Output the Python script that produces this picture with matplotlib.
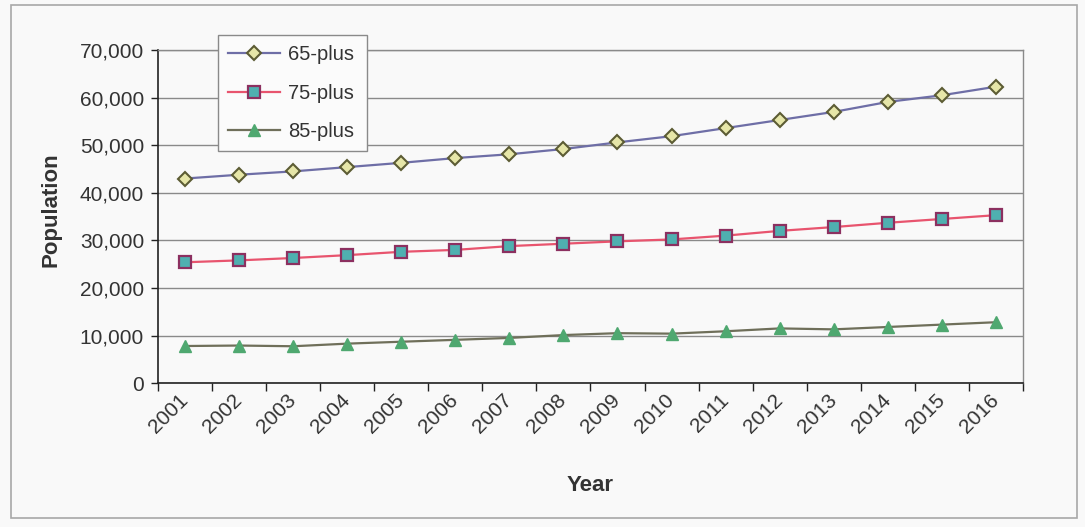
import matplotlib
matplotlib.use("Agg")
import matplotlib.pyplot as plt
from matplotlib.patches import Rectangle
from matplotlib.ticker import FuncFormatter, FixedLocator
import numpy as np

plt.rcParams['font.family'] = ['Liberation Sans', 'DejaVu Sans']

years = [str(y) for y in range(2001, 2017)]
pop_65 = [43000, 43800, 44500, 45400, 46300, 47300, 48100, 49200,
          50600, 51900, 53600, 55300, 57000, 59100, 60500, 62300]
pop_75 = [25400, 25800, 26300, 26900, 27600, 28000, 28800, 29300,
          29800, 30200, 31000, 32000, 32800, 33700, 34500, 35300]
pop_85 = [7800, 7900, 7750, 8300, 8700, 9100, 9500, 10100,
          10500, 10400, 10900, 11500, 11300, 11800, 12300, 12800]

fig = plt.figure(figsize=(10.85, 5.27), dpi=100)
fig.patch.set_facecolor('#f9f9f9')
# chart area border
fig.patches.append(Rectangle((11 / 1085, 1 - 518 / 527), 1066 / 1085, 513 / 527,
                             transform=fig.transFigure, fill=False,
                             edgecolor='#a8a8a8', linewidth=1.2))

ax = fig.add_axes([0.1456, 0.273, 0.7972, 0.632])
ax.set_facecolor('#f9f9f9')
x = np.arange(len(years))

ax.plot(x, pop_65, color='#6e6ea6', lw=1.6, marker='D', ms=7,
        mfc='#e6e6a8', mec='#5c5c34', mew=1.5, label='65-plus')
ax.plot(x, pop_75, color='#e8546e', lw=1.6, marker='s', ms=8.5,
        mfc='#4fb0b0', mec='#8c3060', mew=1.6, label='75-plus')
ax.plot(x, pop_85, color='#6f6f5a', lw=1.6, marker='^', ms=8.5,
        mfc='#4fa870', mec='#4fa870', mew=1, label='85-plus')

ax.set_xlim(-0.5, len(years) - 0.5)
ax.set_ylim(0, 70000)
ax.set_yticks(np.arange(0, 70001, 10000))
ax.yaxis.set_major_formatter(FuncFormatter(lambda v, p: f'{v:,.0f}'))
ax.yaxis.grid(True, color='#8a8a8a', lw=1)
ax.set_axisbelow(True)

ax.set_xticks(x)
ax.set_xticklabels(years, rotation=45, ha='right', va='center', rotation_mode='anchor')
ax.xaxis.set_minor_locator(FixedLocator(np.arange(-0.5, len(years), 1.0)))
ax.tick_params(axis='x', which='major', length=0, pad=10,
               labelsize=15, labelcolor='#333333')
ax.tick_params(axis='x', which='minor', length=6, width=1, color='#222222')
ax.tick_params(axis='y', length=5, width=1, color='#222222',
               labelsize=15, labelcolor='#333333', pad=5)

for s in ['left', 'bottom']:
    ax.spines[s].set_color('#222222')
    ax.spines[s].set_linewidth(1.2)
for s in ['top', 'right']:
    ax.spines[s].set_color('#8a8a8a')
    ax.spines[s].set_linewidth(1)

ax.set_ylabel('Population', fontsize=16, fontweight='bold', color='#333333')
ax.yaxis.set_label_coords(-0.112, 0.52)
ax.set_xlabel('Year', fontsize=16, fontweight='bold', color='#333333')
ax.xaxis.set_label_coords(0.5, -0.275)

leg = ax.legend(loc='upper left',
                bbox_to_anchor=(218 / 1085, 1 - 152 / 527, 149 / 1085, 117 / 527),
                bbox_transform=fig.transFigure, mode='expand', borderaxespad=0,
                fancybox=False, framealpha=1, edgecolor='#8a8a8a', fontsize=14.5,
                handlelength=2.6, labelspacing=0.97, borderpad=0.5, handletextpad=0.4)
leg.get_frame().set_facecolor('#fbfbfb')
for t in leg.get_texts():
    t.set_color('#333333')

fig.savefig('out.png', dpi=100, facecolor=fig.get_facecolor())
